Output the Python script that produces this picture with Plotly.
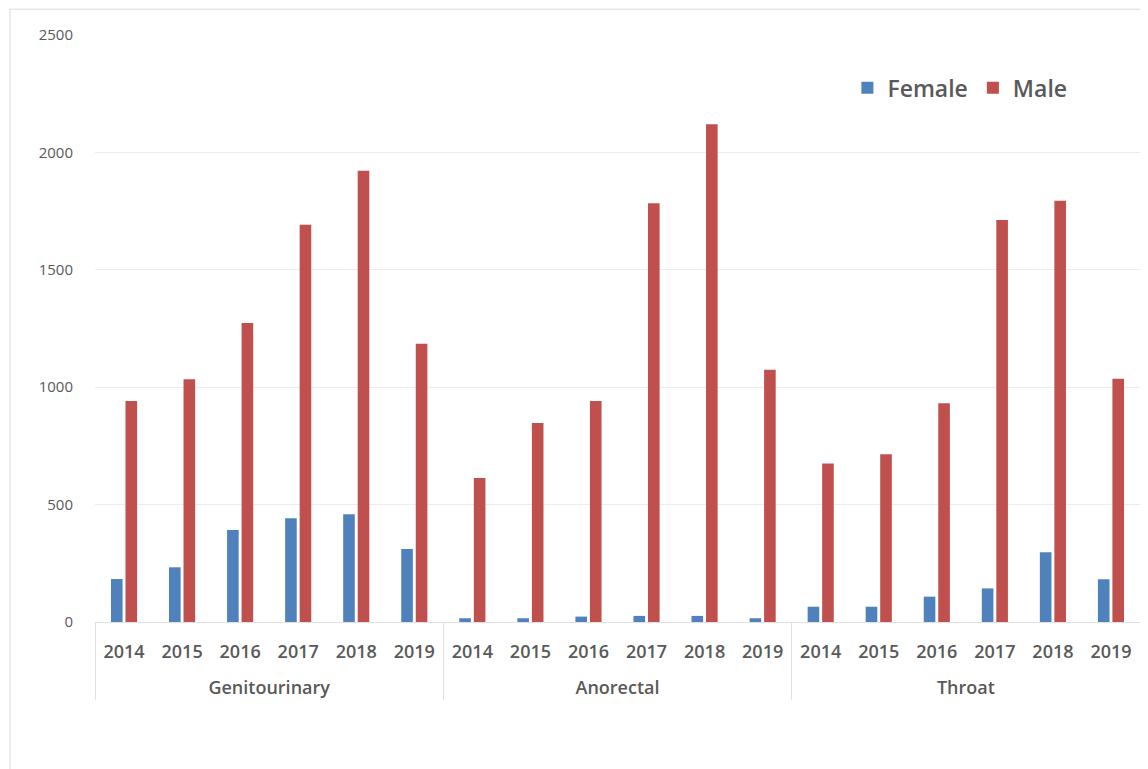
import plotly.graph_objects as go

sites = ["Genitourinary", "Anorectal", "Throat"]
years = ["2014", "2015", "2016", "2017", "2018", "2019"]

female_genitourinary = [183, 233, 392, 442, 459, 311]
female_anorectal = [16, 16, 23, 26, 26, 16]
female_throat = [65, 65, 108, 143, 297, 182]

male_genitourinary = [941, 1034, 1273, 1692, 1922, 1185]
male_anorectal = [613, 847, 941, 1783, 2120, 1074]
male_throat = [675, 714, 932, 1712, 1794, 1036]

y_ticks = [0, 500, 1000, 1500, 2000, 2500]

# group labels get an empty first line so they sit lower, as in the reference
site_labels = [" <br>" + s for s in sites]
x_groups = [s for s in site_labels for _ in years]
x_years = [y for _ in sites for y in years]
female = female_genitourinary + female_anorectal + female_throat
male = male_genitourinary + male_anorectal + male_throat

fig = go.Figure()
fig.add_trace(go.Bar(name="Female", x=[x_groups, x_years], y=female,
                     marker=dict(color="#4F81BD", line=dict(width=0))))
fig.add_trace(go.Bar(name="Male", x=[x_groups, x_years], y=male,
                     marker=dict(color="#C0504D", line=dict(width=0))))

font_fam = "Open Sans, Liberation Sans, sans-serif"

# page body has an 8px margin, so the figure is 8px smaller and margins shifted
fig.update_layout(
    width=1140, height=761,
    margin=dict(l=87, r=8, t=27, b=147),
    paper_bgcolor="white", plot_bgcolor="white",
    barmode="group", bargap=0.5, bargroupgap=0.2,
    font=dict(family=font_fam, color="#595959", size=15),
    showlegend=True,
    legend=dict(orientation="h", x=0.72, y=0.91, xanchor="left", yanchor="middle",
                font=dict(size=23, color="#595959", weight=600), bgcolor="rgba(0,0,0,0)",
                itemwidth=30, traceorder="normal"),
    shapes=[dict(type="rect", xref="paper", yref="paper",
                 x0=-0.0813, x1=1.02, y0=-0.35, y1=1.044,
                 line=dict(color="#d9d9d9", width=1), fillcolor="rgba(0,0,0,0)", layer="below")],
)
fig.update_yaxes(range=[0, 2500], tickvals=y_ticks, showgrid=True, gridcolor="#ececec",
                 gridwidth=1, zeroline=False, showline=False, ticks="",
                 tickfont=dict(size=15, color="#595959"), ticklabelstandoff=21)
fig.update_xaxes(showline=True, linecolor="#e0e0e0", linewidth=1, ticks="",
                 showdividers=True, dividercolor="#e0e0e0", dividerwidth=1,
                 tickfont=dict(size=18, color="#595959", weight=600), ticklabelstandoff=13)

fig.write_html("out.html")
